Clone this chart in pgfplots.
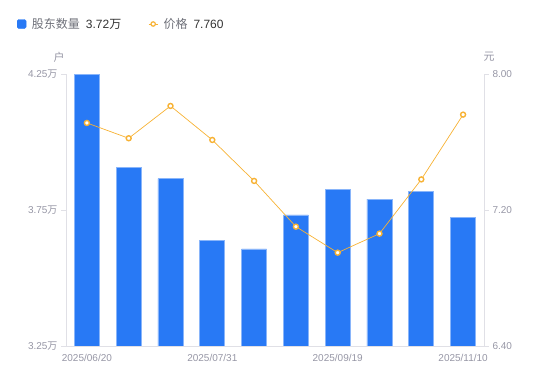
\documentclass[border=0pt]{standalone}
\usepackage{pgfplots}
\pgfplotsset{compat=1.18}
\usepackage{fontspec}
\setmainfont{Liberation Sans}
\newfontfamily\cjk{Noto Sans CJK SC}
\definecolor{barblue}{RGB}{40,121,245}
\definecolor{orangec}{RGB}{247,178,52}
\definecolor{axgray}{RGB}{224,224,230}
\definecolor{labgray}{RGB}{150,150,165}
\definecolor{leggray}{RGB}{110,112,121}
\definecolor{valdark}{RGB}{51,51,51}
\begin{document}
\begin{tikzpicture}
\useasboundingbox (0,0) rectangle (550pt,381pt);
\pgfplotsset{
  base/.style={
    at={(66pt,35pt)}, anchor=south west,
    scale only axis, width=418pt, height=272pt,
    xmin=-0.5, xmax=9.5,
    axis line style={-, draw=axgray, line width=0.8pt},
    tick style={draw=axgray, line width=0.8pt},
    major tick length=5pt,
    tick align=outside,
    tick label style={font=\fontsize{10}{12}\selectfont, text=labgray},
  }
}
\begin{axis}[base,
  axis x line*=bottom, axis y line*=left,
  ymin=3.25, ymax=4.25,
  ytick={3.25,3.75,4.25},
  yticklabels={3.25{\cjk 万},3.75{\cjk 万},4.25{\cjk 万}},
  xtick={0,3,6,9},
  xticklabels={2025/06/20,2025/07/31,2025/09/19,2025/11/10},
  x tick style={draw=none},
  ybar, bar width=25pt, bar shift=0pt,
]
\addplot[fill=barblue, draw=barblue!55!white, line width=0.6pt] coordinates {
(0,4.248) (1,3.907) (2,3.865) (3,3.639) (4,3.607)
(5,3.732) (6,3.826) (7,3.790) (8,3.819) (9,3.723)};
\end{axis}
\begin{axis}[base,
  axis x line=none, axis y line*=right,
  ymin=6.4, ymax=8.0,
  ytick={6.4,7.2,8.0},
  yticklabels={6.40,7.20,8.00},
  legend style={at={(-0.1172,1.1838)}, anchor=west, draw=none, fill=none,
    font=\fontsize{12}{14}\selectfont, legend columns=2,
    inner sep=0pt, outer sep=0pt,
    nodes={inner sep=0pt, outer sep=0pt},
    column sep=5.5pt,
    /tikz/every even column/.append style={column sep=27pt}},
]
\addlegendimage{legend image code/.code={
  \fill[barblue, rounded corners=1.5pt] (0pt,-4.5pt) rectangle (9pt,4.5pt);}}
\addlegendentry{\textcolor{leggray}{\cjk 股东数量}\hspace{6pt}\textcolor{valdark}{3.72{\cjk 万}}}
\addplot[orangec, line width=0.7pt, mark=*, mark size=2.5pt,
  mark options={fill=white, draw=orangec, line width=1.4pt},
  legend image code/.code={
    \draw[orangec, line width=0.8pt] (0pt,0pt) -- (9pt,0pt);
    \draw[orangec, line width=1.2pt, fill=white] (4.5pt,0pt) circle (2.2pt);}]
  coordinates {
(0,7.712) (1,7.622) (2,7.812) (3,7.612) (4,7.371)
(5,7.102) (6,6.949) (7,7.061) (8,7.380) (9,7.761)};
\addlegendentry{\textcolor{leggray}{\cjk 价格}\hspace{6pt}\textcolor{valdark}{7.760}}
\end{axis}
% units
\node[font=\fontsize{11}{13}\selectfont\cjk, text=labgray] at (59pt,324pt) {户};
\node[font=\fontsize{11}{13}\selectfont\cjk, text=labgray] at (489pt,324pt) {元};
\end{tikzpicture}
\end{document}
